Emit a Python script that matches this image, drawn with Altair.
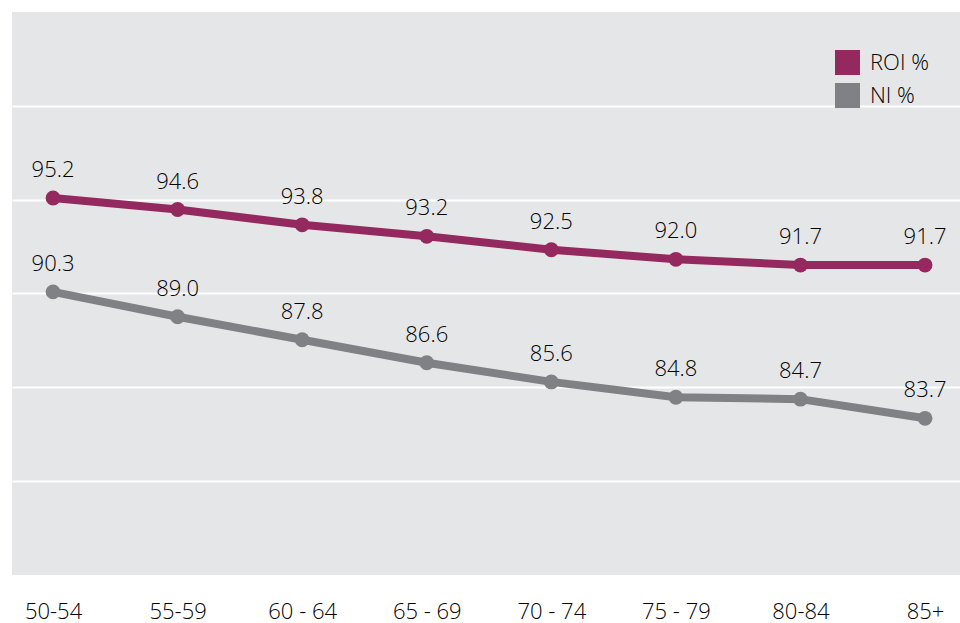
import altair as alt
import pandas as pd

categories = ["50-54", "55-59", "60 - 64", "65 - 69", "70 - 74", "75 - 79", "80-84", "85+"]
roi_values = [95.2, 94.6, 93.8, 93.2, 92.5, 92.0, 91.7, 91.7]
ni_values = [90.3, 89.0, 87.8, 86.6, 85.6, 84.8, 84.7, 83.7]
series_names = ["ROI %", "NI %"]
series_colors = ["#93295e", "#808184"]
# gridline positions (unlabelled)
grid_values = [80.43, 85.33, 90.22, 95.1, 100.0]
y_domain = [75.52, 104.91]

rows = []
for c, v in zip(categories, roi_values):
    rows.append({"age": c, "series": series_names[0], "value": v})
for c, v in zip(categories, ni_values):
    rows.append({"age": c, "series": series_names[1], "value": v})
df = pd.DataFrame(rows)

FONT = "Open Sans"
TEXT = "#000000"

x = alt.X("age:N", sort=categories,
          scale=alt.Scale(type="point", padding=0.305, align=0.54),
          axis=alt.Axis(title=None, labelAngle=0, labelFontSize=22, labelFont=FONT,
                        labelFontWeight=300,
                        labelColor=TEXT, labelPadding=26, ticks=False, domain=False,
                        grid=False))
y = alt.Y("value:Q", scale=alt.Scale(domain=y_domain, nice=False, zero=False),
          axis=alt.Axis(title=None, values=grid_values, labels=False, ticks=False,
                        domain=False, grid=True, gridColor="white", gridWidth=2,
                        gridOpacity=1))
color = alt.Color("series:N", scale=alt.Scale(domain=series_names, range=series_colors),
                  legend=alt.Legend(title=None, orient="none", legendX=823, legendY=38,
                                    symbolType="square", symbolSize=625,
                                    symbolStrokeWidth=0, symbolOpacity=1,
                                    labelFontSize=22, labelFont=FONT, labelColor=TEXT,
                                    labelFontWeight=300,
                                    labelOffset=10, rowPadding=8, padding=0))

base = alt.Chart(df).encode(x=x, y=y)

lines = base.mark_line(strokeWidth=8).encode(color=color, detail="series:N")
points = base.mark_circle(size=220, opacity=1).encode(color=color)
labels = base.mark_text(dy=-28, fontSize=22, font=FONT, fontWeight=300, color=TEXT).encode(
    text=alt.Text("value:Q", format=".1f"))

chart = alt.layer(lines, points, labels).properties(
    width=948, height=563,
    background="white",
    padding={"left": 12, "top": 12, "right": 0, "bottom": 2},
).configure_view(fill="#e5e6e8", stroke=None, strokeWidth=0)

chart.save("out.html", embed_options={"renderer": "svg", "actions": False})
